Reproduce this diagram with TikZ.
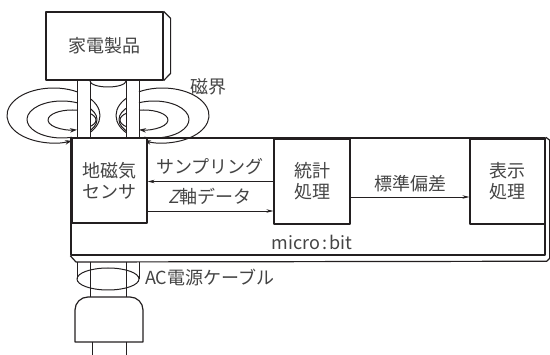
\documentclass[tikz,border=0pt]{standalone}
\usepackage{fontspec}
\setmainfont{Noto Sans CJK JP}
\newfontfamily\slantjp[FakeSlant=0.25]{Noto Sans CJK JP}
\usetikzlibrary{arrows.meta}

\definecolor{ink}{HTML}{231F20}
\definecolor{txt}{HTML}{444444}

\tikzset{
  edge/.style={draw=ink, line width=1.2pt},
  unit/.style={edge, fill=white, align=center, text=txt, inner sep=0pt,
    font=\fontsize{18}{21}\selectfont},
  lbl/.style={text=txt, inner sep=0pt, font=\fontsize{18}{21}\selectfont},
  sig/.style={draw=ink, line width=0.7pt, -{Stealth[length=7pt,width=3.5pt]}},
  field/.style={draw=ink, line width=1pt},
  fieldarrow/.style={field, -{Stealth[length=7pt,width=4.5pt]}},
}

\begin{document}
\begin{tikzpicture}[x=1pt, y=-1pt, line join=round]
  \useasboundingbox (0,0) rectangle (550,355);

  % appliance
  \node[unit, minimum width=117pt, minimum height=68pt] (appl) at (104.5,46) {家電製品};
  \draw[edge] (appl.north east) -- ++(7,7) -- ++(0,55) -- (appl.south east);

  % cable between appliance and board
  \foreach \x in {77,90,126,139}
    \draw[field] (\x,80) -- (\x,138);
  \draw[field] (90,81) arc[start angle=180, end angle=0, x radius=18, y radius=6];

  % field loops, left wire and mirrored for the right one
  \foreach \dx/\s in {0/1, 216/-1}{
    \begin{scope}[xshift=\dx pt, xscale=\s]
      \draw[fieldarrow] (53.5,115.5) ++(-59.6:46.5 and 27.5)
        arc[start angle=-59.6, end angle=-293.4, x radius=46.5, y radius=27.5];
      \draw[field] (62,119.5) ++(-64.6:35 and 18.5)
        arc[start angle=-64.6, end angle=-286.6, x radius=35, y radius=18.5];
      \draw[fieldarrow] (72,120) ++(-78:24 and 10)
        arc[start angle=-78, end angle=-282, x radius=24, y radius=10];
      \begin{scope}
        \clip (90,80) rectangle (126,138);
        \draw[field] (53.5,115.5) ellipse[x radius=46.5, y radius=27.5];
        \draw[field] (62,119.5) ellipse[x radius=35, y radius=18.5];
        \draw[field] (72,120) ellipse[x radius=24, y radius=10];
      \end{scope}
    \end{scope}
  }
  \node[lbl] (mag) at (208,87) {磁界};

  % micro:bit board
  \node[draw=ink, line width=1.5pt, minimum width=474pt, minimum height=117pt,
    inner sep=0pt] (board) at (308,196.5) {};
  \draw[edge] (board.north east) -- ++(4,3) -- ++(0,118) -- ++(-3,3)
    -- (76,262) -- (board.south west);
  \node[lbl] (mb) at (312,242) {micro\kern2pt:\kern2pt bit};

  % blocks on the board
  \node[unit, minimum width=75pt, minimum height=85pt] (sensor) at (109.5,180.5) {地磁気\\センサ};
  \node[unit, minimum width=76pt, minimum height=85pt] (stat) at (312,181.5) {統計\\処理};
  \node[unit, minimum width=75pt, minimum height=85pt] (disp) at (507.5,181.5) {表示\\処理};

  \coordinate (zrow) at (0,211);
  \coordinate (sdrow) at (0,197);
  \draw[sig] (stat.west) -- (stat.west -| sensor.east);
  \draw[sig] (sensor.east |- zrow) -- (stat.west |- zrow);
  \draw[sig] (stat.east |- sdrow) -- (disp.west |- sdrow);
  \node[lbl] (samp) at (210,167) {サンプリング};
  \node[lbl] (zdata) at (210,197) {{\slantjp Z}軸データ};
  \node[lbl] (sdev) at (410,184) {標準偏差};

  % power cable and plug
  \foreach \x in {77,139}
    \draw[field] (\x,262) -- (\x,279);
  \foreach \x in {90,126}
    \draw[field] (\x,262) -- (\x,297);
  \draw[field] (108,279) ellipse[x radius=31, y radius=11];
  \node[lbl, anchor=west] (ac) at (145,278) {AC電源ケーブル};
  \draw[edge] (75,342) {[rounded corners=13pt] -- (75,297) -- (143,297)} -- (143,342) -- cycle;
  \foreach \x in {92,126}
    \draw[field] (\x,342) -- (\x,355);
\end{tikzpicture}
\end{document}
